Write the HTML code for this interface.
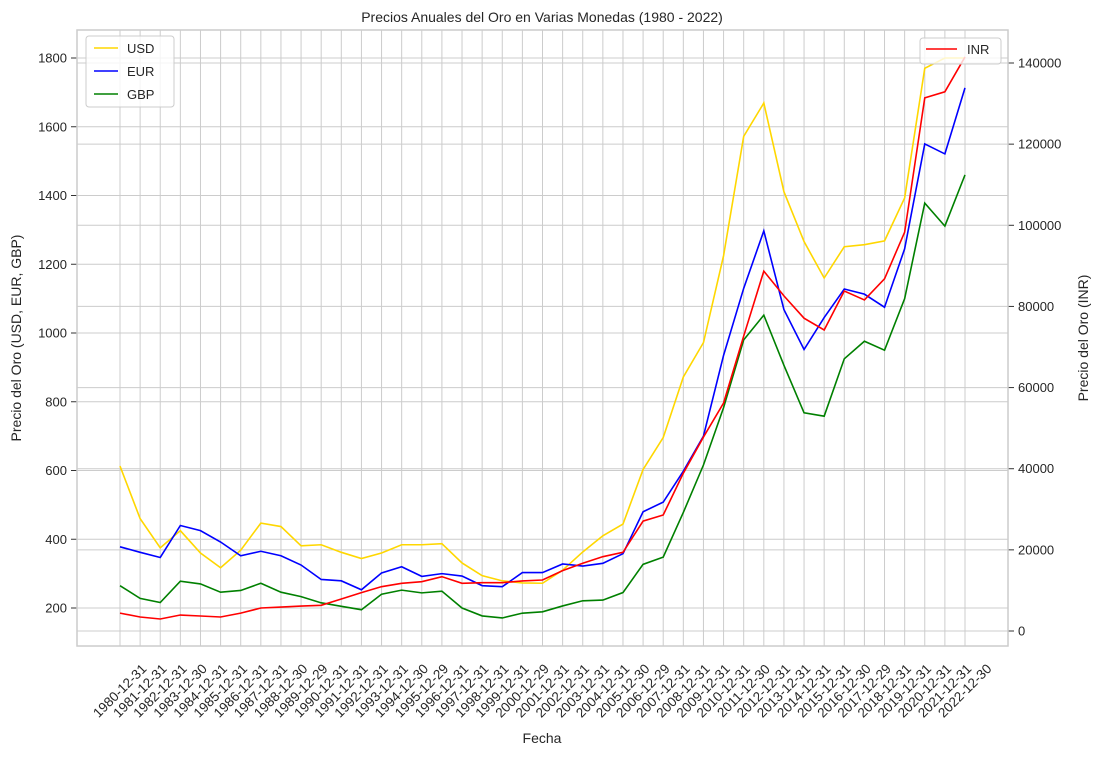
<!DOCTYPE html>
<html><head><meta charset="utf-8"><style>
body{margin:0;background:#fff;font-family:"Liberation Sans","DejaVu Sans",sans-serif;}
svg text{font-family:"Liberation Sans","DejaVu Sans",sans-serif;fill:#262626;}
</style></head><body>
<svg id="chart" width="1102" height="755" xmlns="http://www.w3.org/2000/svg">
<text x="542" y="22" font-size="14" text-anchor="middle">Precios Anuales del Oro en Varias Monedas (1980 - 2022)</text>
<g id="grid"></g><g id="series"></g><g id="axes"></g>
<text x="542" y="743" font-size="14" text-anchor="middle">Fecha</text>
<text transform="translate(21,338) rotate(-90)" font-size="14" text-anchor="middle">Precio del Oro (USD, EUR, GBP)</text>
<text transform="translate(1088,338) rotate(-90)" font-size="14" text-anchor="middle">Precio del Oro (INR)</text>
<g>
<rect x="86" y="36" width="88" height="71" rx="3" fill="#fff" fill-opacity="0.8" stroke="#ccc"/>
<line x1="94" y1="48" x2="118" y2="48" stroke="gold" stroke-width="1.5"/><text x="127" y="53" font-size="13">USD</text>
<line x1="94" y1="71" x2="118" y2="71" stroke="blue" stroke-width="1.5"/><text x="127" y="76" font-size="13">EUR</text>
<line x1="94" y1="94" x2="118" y2="94" stroke="green" stroke-width="1.5"/><text x="127" y="99" font-size="13">GBP</text>
</g>
<g>
<rect x="920" y="38" width="81" height="26" rx="3" fill="#fff" fill-opacity="0.8" stroke="#ccc"/>
<line x1="926" y1="49" x2="957" y2="49" stroke="red" stroke-width="1.5"/><text x="967" y="54" font-size="13">INR</text>
</g>
</svg>
<script>
const dates=["1980-12-31","1981-12-31","1982-12-31","1983-12-30","1984-12-31","1985-12-31","1986-12-31","1987-12-31","1988-12-30","1989-12-29","1990-12-31","1991-12-31","1992-12-31","1993-12-31","1994-12-30","1995-12-29","1996-12-31","1997-12-31","1998-12-31","1999-12-31","2000-12-29","2001-12-31","2002-12-31","2003-12-31","2004-12-31","2005-12-30","2006-12-29","2007-12-31","2008-12-31","2009-12-31","2010-12-31","2011-12-30","2012-12-31","2013-12-31","2014-12-31","2015-12-31","2016-12-30","2017-12-29","2018-12-31","2019-12-31","2020-12-31","2021-12-31","2022-12-30"];
const usd=[613,460,375,425,360,317,368,447,437,381,384,362,344,360,384,384,387,331,294,279,273,272,310,363,410,444,603,696,872,972,1225,1572,1669,1411,1266,1160,1251,1257,1268,1393,1770,1800,1800];
const eur=[378,362,347,440,425,392,352,365,352,325,283,279,253,302,320,292,300,293,265,262,303,303,328,322,330,358,480,508,598,700,935,1130,1297,1068,952,1045,1128,1113,1075,1245,1550,1521,1713];
const gbp=[265,228,216,278,270,246,251,272,246,233,215,205,195,240,252,244,249,200,177,171,185,189,206,221,223,245,327,348,478,616,783,980,1052,906,768,758,925,976,950,1100,1378,1311,1460];
const inr=[4400,3450,2960,3940,3700,3450,4400,5670,5900,6150,6330,7890,9450,10930,11760,12160,13390,11760,11910,11910,12330,12570,14870,16690,18320,19410,27100,28600,38900,47800,56200,72700,88700,82600,77100,74200,83800,81600,86800,98300,131400,132900,141500];
const leftTicks=[200,400,600,800,1000,1200,1400,1600,1800];
const rightTicks=[0,20000,40000,60000,80000,100000,120000,140000];
const NS="http://www.w3.org/2000/svg";
const L=77,R=1008,T=30,B=646;
const xs=i=>120+i*(845/(dates.length-1));
const yl=v=>608-(v-200)*0.34375;
const yr=v=>631-v*0.0040571;
function mk(tag,attrs,parent){const e=document.createElementNS(NS,tag);for(const k in attrs)e.setAttribute(k,attrs[k]);parent.appendChild(e);return e;}
const grid=document.getElementById('grid'),axes=document.getElementById('axes'),ser=document.getElementById('series');
mk('rect',{x:L,y:T,width:R-L,height:B-T,fill:'#fff'},grid);
dates.forEach((d,i)=>{const g=mk('line',{x1:xs(i),x2:xs(i),y1:T,y2:B,stroke:'#cccccc','stroke-width':1},grid);


const t=mk('text',{x:0,y:0,'font-size':13.5,'text-anchor':'middle',transform:`translate(${xs(i)+3},${694}) rotate(-45)`},axes);


t.textContent=d;});
leftTicks.forEach(v=>{const y=yl(v);const g=mk('line',{x1:L,x2:R,y1:y,y2:y,stroke:'#cccccc','stroke-width':1},grid);


mk('line',{x1:L-6,x2:L,y1:y,y2:y,stroke:'#333','stroke-width':1},axes);
const t=mk('text',{x:L-10,y:y+4.5,'font-size':13,'text-anchor':'end'},axes);


t.textContent=v;});
rightTicks.forEach(v=>{const y=yr(v);const g=mk('line',{x1:L,x2:R,y1:y,y2:y,stroke:'#cccccc','stroke-width':1},grid);


mk('line',{x1:R,x2:R+6,y1:y,y2:y,stroke:'#333','stroke-width':1},axes);
const t=mk('text',{x:R+10,y:y+4.5,'font-size':13,'text-anchor':'start'},axes);


t.textContent=v;});
const fr=mk('rect',{x:L,y:T,width:R-L,height:B-T,fill:'none',stroke:'#cccccc','stroke-width':1.5},axes);


function line(arr,yf,color,name){const p=mk('polyline',{points:arr.map((v,i)=>xs(i)+','+yf(v)).join(' '),fill:'none',stroke:color,'stroke-width':1.6},ser);

}
line(usd,yl,'gold','usd-line');
line(eur,yl,'blue','eur-line');
line(gbp,yl,'green','gbp-line');
line(inr,yr,'red','inr-line');
</script>
</body></html>
